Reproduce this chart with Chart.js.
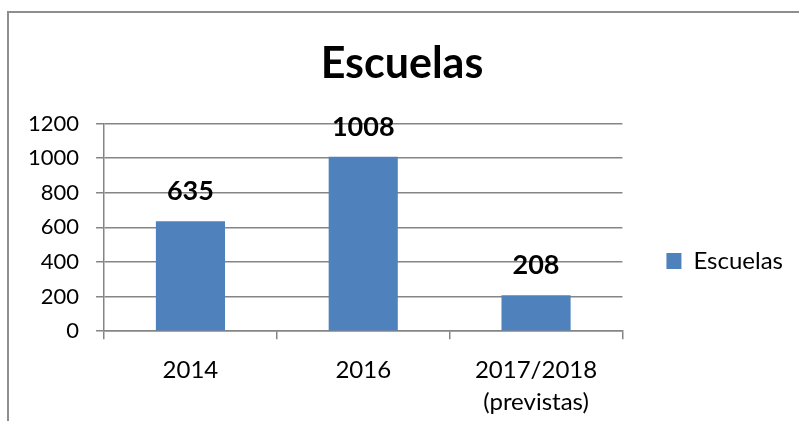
<!DOCTYPE html>
<html>
<head>
<meta charset="utf-8">
<script src="https://cdn.jsdelivr.net/npm/chart.js@4/dist/chart.umd.min.js"></script>
<style>
    html, body { margin: 0; padding: 0; background: #fff; overflow: hidden; }
    #marco {
        position: absolute; left: 7px; top: 11px; width: 900px; height: 500px;
        border-left: 2px solid #8e8e8e; border-top: 2px solid #8e8e8e;
    }
    #lienzo { position: absolute; left: 0; top: 0; }
</style>
</head>
<body>
<div id="marco"></div>
<canvas id="lienzo" width="799" height="421"></canvas>
<script>
const categorias = ['2014', '2016', ['2017/2018', '(previstas)']];
const escuelas = [635, 1008, 208];
const ticksY = [0, 200, 400, 600, 800, 1000, 1200];

const gris = '#858585';

// etiquetas de valor encima de cada barra
const etiquetasValor = {
    id: 'etiquetasValor',
    afterDatasetsDraw(chart) {
        const ctx = chart.ctx;
        const meta = chart.getDatasetMeta(0);
        ctx.save();
        ctx.font = 'bold 27px Lato';
        ctx.fillStyle = '#000';
        ctx.textAlign = 'center';
        ctx.textBaseline = 'middle';
        meta.data.forEach(function (bar, i) {
            ctx.fillText(String(chart.data.datasets[0].data[i]), bar.x, bar.y - 30);
        });
        ctx.restore();
    }
};

new Chart(document.getElementById('lienzo').getContext('2d'), {
    type: 'bar',
    data: {
        labels: categorias,
        datasets: [{
            label: 'Escuelas',
            data: escuelas,
            backgroundColor: '#4F81BD',
            categoryPercentage: 1,
            barPercentage: 0.4
        }]
    },
    options: {
        responsive: false,
        animation: false,
        events: [],
        layout: { padding: { top: 12, left: 11, right: 6, bottom: -12 } },
        plugins: {
            legend: {
                position: 'right',
                align: 'center',
                title: { display: true, text: '', font: { size: 10, lineHeight: 1 }, padding: { top: 0, bottom: 67 } },
                labels: {
                    boxWidth: 15,
                    boxHeight: 16,
                    padding: 44,
                    color: '#000',
                    font: { family: 'Lato', size: 24 }
                }
            },
            tooltip: { enabled: false },
            title: {
                display: true,
                text: 'Escuelas',
                color: '#000',
                font: { family: 'Lato', size: 43, weight: 'bold', lineHeight: 1.2 },
                padding: { top: 26, bottom: 34 }
            }
        },
        scales: {
            x: {
                offset: true,
                grid: { display: true, offset: true, drawOnChartArea: false, drawTicks: true, tickLength: 8, color: gris, lineWidth: 1.5 },
                border: { display: true, color: gris, width: 1.5 },
                ticks: { color: '#000', padding: 15, maxRotation: 0, font: { family: 'Lato', size: 24, lineHeight: 1.33 } }
            },
            y: {
                min: 0,
                max: 1200,
                afterBuildTicks(axis) { axis.ticks = ticksY.map(v => ({ value: v })); },
                grid: { color: gris, lineWidth: 1.5, tickLength: 8 },
                border: { display: true, color: gris, width: 1.5 },
                ticks: {
                    color: '#000', padding: 17, font: { family: 'Lato', size: 22 },
                    callback: function (v) { return String(v); }
                }
            }
        }
    },
    plugins: [etiquetasValor]
});
</script>
</body>
</html>
